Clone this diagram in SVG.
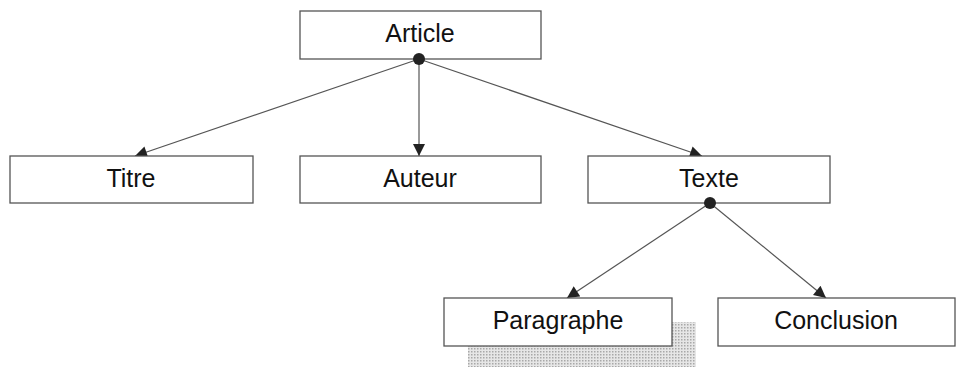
<svg xmlns="http://www.w3.org/2000/svg" width="970" height="367" viewBox="0 0 970 367">
<defs>
<style>
.box{fill:#fff;stroke:#555;stroke-width:1.3}
.lbl{font-family:"Liberation Sans",Arial,sans-serif;font-size:25px;fill:#111;text-anchor:middle}
.edge{stroke:#555;stroke-width:1.2;fill:none;marker-end:url(#arr)}
.dot{fill:#222}
</style>
<marker id="arr" viewBox="0 0 10 10" refX="10" refY="5" markerWidth="13" markerHeight="12" markerUnits="userSpaceOnUse" orient="auto">
<path d="M0,0 L10,5 L0,10 Z" fill="#222"/>
</marker>
<pattern id="dots" width="3" height="3" patternUnits="userSpaceOnUse">
<rect width="3" height="3" fill="#e6e6e6"/>
<rect width="1.5" height="1.5" fill="#a8a8a8"/>
</pattern>
</defs>
<rect x="468" y="322" width="228" height="45" fill="url(#dots)"/>
<g id="connectors">
<line class="edge" x1="419" y1="59" x2="135" y2="156"/>
<line class="edge" x1="419" y1="59" x2="419" y2="156"/>
<line class="edge" x1="419" y1="59" x2="702" y2="156"/>
<line class="edge" x1="710" y1="203" x2="567" y2="298"/>
<line class="edge" x1="710" y1="203" x2="826" y2="298"/>
</g>
<g id="article"><rect class="box" x="300" y="11" width="241" height="48"/><text class="lbl" x="420" y="42">Article</text></g>
<g id="titre"><rect class="box" x="10" y="156" width="243" height="47"/><text class="lbl" x="131" y="187">Titre</text></g>
<g id="auteur"><rect class="box" x="300" y="156" width="241" height="47"/><text class="lbl" x="420" y="187">Auteur</text></g>
<g id="texte"><rect class="box" x="588" y="156" width="242" height="47"/><text class="lbl" x="709" y="187">Texte</text></g>
<g id="paragraphe"><rect class="box" x="444" y="298" width="228" height="48"/><text class="lbl" x="558" y="329">Paragraphe</text></g>
<g id="conclusion"><rect class="box" x="718" y="298" width="237" height="48"/><text class="lbl" x="836" y="329">Conclusion</text></g>
<circle class="dot" cx="419" cy="59" r="6"/>
<circle class="dot" cx="710" cy="203" r="6"/>
</svg>
